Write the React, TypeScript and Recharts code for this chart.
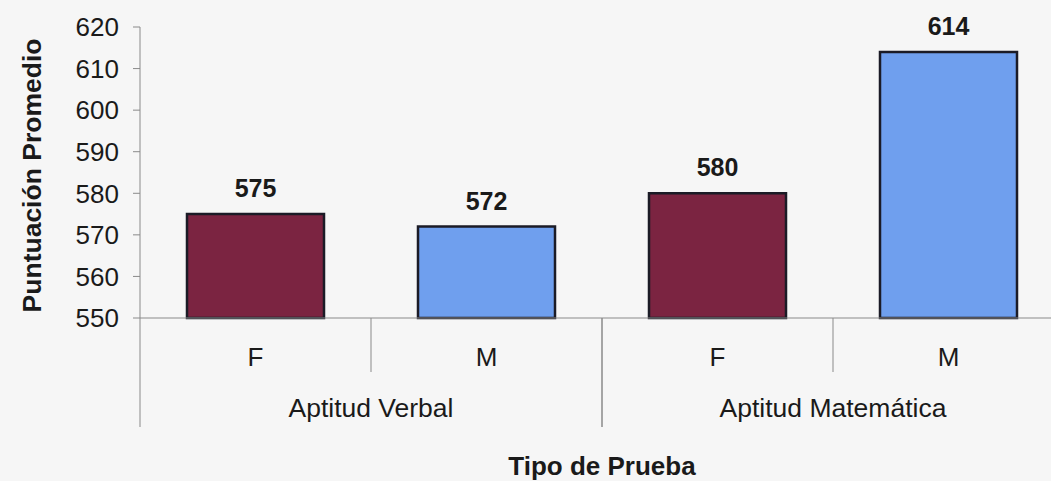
import { BarChart, Bar, XAxis, YAxis, Cell, LabelList } from "recharts";

// Data
const sexes = ["F", "M", "F", "M"];
const groups = ["Aptitud Verbal", "Aptitud Verbal", "Aptitud Matemática", "Aptitud Matemática"];
const scores = [575, 572, 580, 614];
const yTicks = [550, 560, 570, 580, 590, 600, 610, 620];

const FEMALE = "#7b2441";
const MALE = "#6f9fee";
const barFills = sexes.map((s) => (s === "F" ? FEMALE : MALE));

const data = sexes.map((s, i) => ({ id: `${groups[i]}-${s}`, sex: s, group: groups[i], score: scores[i] }));

const CHART_W = 1070;
const CHART_H = 481;
const MARGIN = { top: 27, right: 6, bottom: 0, left: 0 };
const Y_AXIS_W = 140;
const BAND = (CHART_W - MARGIN.left - MARGIN.right - Y_AXIS_W) / data.length;

const FONT = "'Liberation Sans', Arial, sans-serif";
const TEXT = "#1a1a1a";
const LINE = "#8a8a8a";

function CategoryTick(props: any) {
  const { x, y, index } = props;
  const d = data[index];
  const firstInGroup = index === 0 || data[index - 1].group !== d.group;
  const lastInGroup = index === data.length - 1 || data[index + 1].group !== d.group;
  return (
    <g>
      <text x={x} y={y + 39} textAnchor="middle" dominantBaseline="central" fontSize={26} fill={TEXT} fontFamily={FONT}>
        {d.sex}
      </text>
      {firstInGroup && <line x1={x - BAND / 2} y1={y} x2={x - BAND / 2} y2={y + 109} stroke={LINE} />}
      <line x1={x + BAND / 2} y1={y} x2={x + BAND / 2} y2={y + (lastInGroup ? 109 : 54)} stroke={LINE} />
      {firstInGroup && (
        <text x={x + BAND / 2} y={y + 90} textAnchor="middle" dominantBaseline="central" fontSize={26.5} fill={TEXT} fontFamily={FONT}>
          {d.group}
        </text>
      )}
    </g>
  );
}

export default function App() {
  return (
    <div style={{ position: "fixed", left: 0, top: 0, width: 1051, height: 481, overflow: "hidden", background: "#f6f6f6" }}>
      <BarChart width={CHART_W} height={CHART_H} data={data} margin={MARGIN} barCategoryGap={47}>
        <XAxis
          dataKey="id"
          height={CHART_H - MARGIN.top - MARGIN.bottom - 291}
          axisLine={{ stroke: LINE }}
          tickLine={false}
          tickSize={0}
          tickMargin={0}
          interval={0}
          tick={(p: any) => <CategoryTick {...p} />}
          label={{
            content: (p: any) => (
              <text
                x={p.viewBox.x + p.viewBox.width / 2}
                y={466}
                textAnchor="middle"
                dominantBaseline="central"
                fontSize={26}
                fontWeight="bold"
                fill={TEXT}
                fontFamily={FONT}
              >
                Tipo de Prueba
              </text>
            ),
          }}
        />
        <YAxis
          width={Y_AXIS_W}
          domain={[550, 620]}
          ticks={yTicks}
          interval={0}
          axisLine={{ stroke: LINE }}
          tickLine={{ stroke: LINE }}
          tickSize={7}
          tickMargin={14}
          tick={{ fontSize: 26, fill: TEXT, fontFamily: FONT }}
          label={{
            content: (p: any) => (
              <text
                x={32}
                y={p.viewBox.y + p.viewBox.height / 2 + 3}
                transform={`rotate(-90, 32, ${p.viewBox.y + p.viewBox.height / 2 + 3})`}
                textAnchor="middle"
                dominantBaseline="central"
                fontSize={26.5}
                fontWeight="bold"
                fill={TEXT}
                fontFamily={FONT}
              >
                Puntuación Promedio
              </text>
            ),
          }}
        />
        <Bar dataKey="score" stroke="#1b1b26" strokeWidth={2.5} isAnimationActive={false}>
          {data.map((d, i) => (
            <Cell key={d.id} fill={barFills[i]} />
          ))}
          <LabelList
            dataKey="score"
            position="top"
            offset={17}
            style={{ fontSize: 25, fontWeight: "bold", fill: TEXT, fontFamily: FONT }}
          />
        </Bar>
      </BarChart>
    </div>
  );
}
